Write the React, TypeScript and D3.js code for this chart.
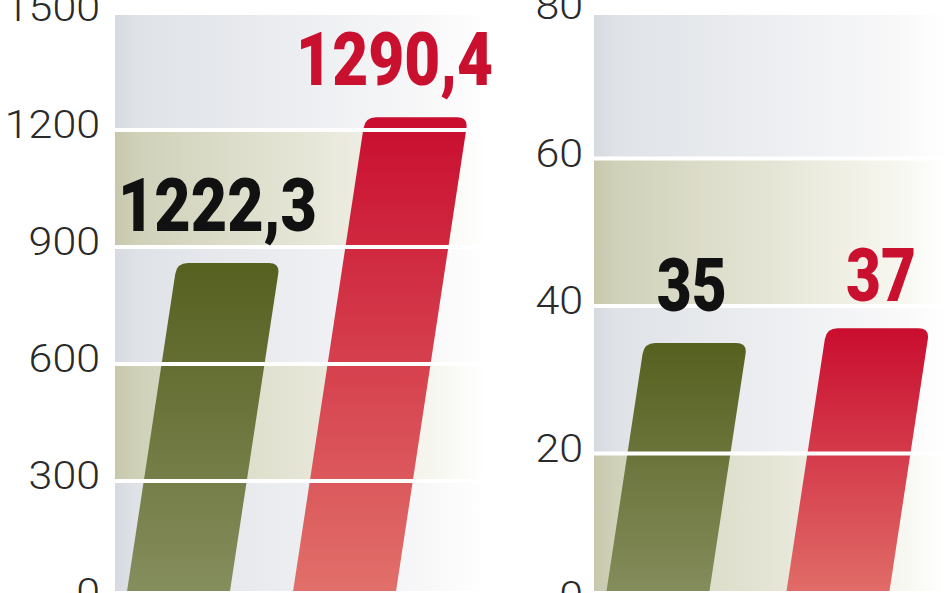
import React from "react";
import * as d3 from "d3";

// ---- data ----
const seriesNames = ["A", "B"];
const leftTicks = [0, 300, 600, 900, 1200, 1500];
const leftBarValues = [859, 1233];
const leftLabels = ["1222,3", "1290,4"];
const rightTicks = [0, 20, 40, 60, 80];
const rightBarValues = [35, 37];
const rightLabels = ["35", "37"];

const W = 948;
const H = 593;
const SHEAR = 0.152;
const PANEL_TOP = 15;
const PANEL_BOTTOM = 591;

type PanelCfg = {
  id: string;
  ticks: number[];
  values: number[];
  labels: string[];
  yRange: [number, number];
  panelX: [number, number];
  bandRange: [number, number];
  paddingInner: number;
  labelRight: number;
  labelDx: number[];
  labelWidths: number[];
  labelBaseOffset: number[];
};

const panels: PanelCfg[] = [
  {
    id: "l",
    ticks: leftTicks,
    values: leftBarValues,
    labels: leftLabels,
    yRange: [598, 13],
    panelX: [115, 487],
    bandRange: [126, 395],
    paddingInner: 0.38,
    labelRight: 100,
    labelDx: [-11, -22],
    labelWidths: [199, 197],
    labelBaseOffset: [-32, -32],
  },
  {
    id: "r",
    ticks: rightTicks,
    values: rightBarValues,
    labels: rightLabels,
    yRange: [601, 11],
    panelX: [594, 948],
    bandRange: [605, 888],
    paddingInner: 0.428,
    labelRight: 583,
    labelDx: [-4, 3],
    labelWidths: [70, 70],
    labelBaseOffset: [-32, -27],
  },
];

const barColors = [
  { top: "#56601f", bottom: "#879060", text: "#111111" },
  { top: "#c90d2f", bottom: "#e2736c", text: "#c9102f" },
];

function barPath(w: number, h: number, r: number) {
  return `M0,10 L0,${-h + r} Q0,${-h} ${r},${-h} L${w - r},${-h} Q${w},${-h} ${w},${-h + r} L${w},10 Z`;
}

function Panel({ cfg }: { cfg: PanelCfg }) {
  const y = d3
    .scaleLinear()
    .domain([0, cfg.ticks[cfg.ticks.length - 1]])
    .range(cfg.yRange);
  const x = d3
    .scaleBand<string>()
    .domain(seriesNames)
    .range(cfg.bandRange)
    .paddingInner(cfg.paddingInner)
    .paddingOuter(0);
  const bw = x.bandwidth();
  const base = y(0);
  const [px0, px1] = cfg.panelX;
  const bands = cfg.ticks.slice(0, -1).map((t, i) => ({
    t0: t,
    t1: cfg.ticks[i + 1],
    idx: cfg.ticks.length - 2 - i,
  }));
  const angle = (Math.atan(SHEAR) * 180) / Math.PI;
  return (
    <g>
      <clipPath id={`clip-${cfg.id}`}>
        <rect x={px0} y={PANEL_TOP} width={px1 - px0} height={PANEL_BOTTOM - PANEL_TOP} />
      </clipPath>
      <g clipPath={`url(#clip-${cfg.id})`}>
        {bands.map((b) => (
          <rect
            key={b.t0}
            x={px0}
            y={y(b.t1)}
            width={px1 - px0}
            height={y(b.t0) - y(b.t1)}
            fill={b.idx % 2 === 0 ? "url(#gradGrey)" : "url(#gradBeige)"}
          />
        ))}
        {cfg.values.map((v, i) => {
          const h = base - y(v);
          return (
            <path
              key={i}
              transform={`translate(${x(seriesNames[i])},${base}) skewX(${-angle})`}
              d={barPath(bw, h, 11)}
              fill={`url(#gradBar${i})`}
            />
          );
        })}
        {cfg.ticks.slice(1, -1).map((t) => (
          <line
            key={t}
            x1={px0}
            x2={px1}
            y1={y(t)}
            y2={y(t)}
            stroke="#ffffff"
            strokeWidth={4}
          />
        ))}
      </g>
      {cfg.ticks.map((t) => {
        const s = String(t);
        return (
          <text
            key={t}
            x={cfg.labelRight - s.length * 23.8}
            y={y(t) - 6}
            dy="0.36em"
            textLength={s.length * 23.8}
            lengthAdjust="spacingAndGlyphs"
            fontFamily="Roboto, 'DejaVu Sans', sans-serif"
            fontWeight={300}
            fontSize={39}
            fill="#2a2a2a"
          >
            {s}
          </text>
        );
      })}
      {cfg.values.map((v, i) => {
        const h = base - y(v);
        const cx = (x(seriesNames[i]) as number) + SHEAR * h + bw / 2 + cfg.labelDx[i];
        return (
          <text
            key={i}
            x={cx - cfg.labelWidths[i] / 2}
            y={y(v) + cfg.labelBaseOffset[i]}
            textLength={cfg.labelWidths[i]}
            lengthAdjust="spacingAndGlyphs"
            fontFamily="Roboto, 'DejaVu Sans', sans-serif"
            fontWeight={900}
            fontSize={75}
            fill={barColors[i].text}
          >
            {cfg.labels[i]}
          </text>
        );
      })}
    </g>
  );
}

export default function App() {
  return (
    <svg
      width={W}
      height={H}
      viewBox={`0 0 ${W} ${H}`}
      style={{ position: "absolute", left: 0, top: 0, background: "#ffffff" }}
    >
      <defs>
        <linearGradient id="gradGrey" x1="0" x2="1" y1="0" y2="0">
          <stop offset="0" stopColor="#d6dae0" />
          <stop offset="0.06" stopColor="#dfe2e7" />
          <stop offset="0.5" stopColor="#eceef1" />
          <stop offset="0.85" stopColor="#f8f8f9" />
          <stop offset="1" stopColor="#ffffff" />
        </linearGradient>
        <linearGradient id="gradBeige" x1="0" x2="1" y1="0" y2="0">
          <stop offset="0" stopColor="#c6c7ab" />
          <stop offset="0.06" stopColor="#d0d1b9" />
          <stop offset="0.5" stopColor="#e5e5d6" />
          <stop offset="0.85" stopColor="#f6f6ef" />
          <stop offset="1" stopColor="#ffffff" />
        </linearGradient>
        {barColors.map((c, i) => (
          <linearGradient key={i} id={`gradBar${i}`} x1="0" x2="0" y1="0" y2="1">
            <stop offset="0" stopColor={c.top} />
            <stop offset="1" stopColor={c.bottom} />
          </linearGradient>
        ))}
      </defs>
      <rect width={W} height={H} fill="#ffffff" />
      {panels.map((p) => (
        <Panel key={p.id} cfg={p} />
      ))}
    </svg>
  );
}
